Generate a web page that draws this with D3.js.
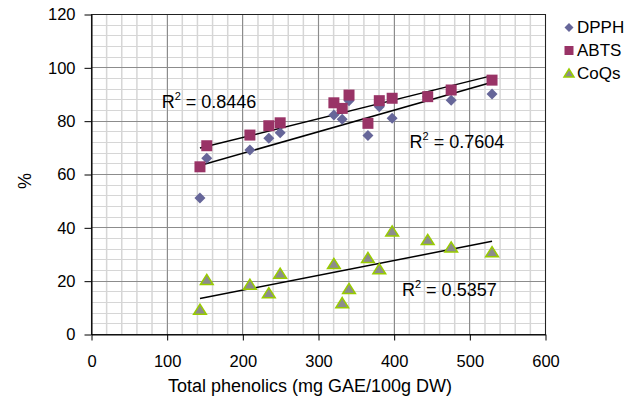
<!DOCTYPE html>
<html>
<head>
<meta charset="utf-8">
<script src="https://cdn.jsdelivr.net/npm/d3@7"></script>
<style>
  body { margin: 0; background: #fff; }
  text { font-family: "Liberation Sans", Arial, sans-serif; fill: #000; }
</style>
</head>
<body>
<svg id="chart" width="642" height="408"></svg>
<script>
// data
const phenolics = [144, 153, 210, 235, 250, 321, 332, 341, 366, 381, 398, 445, 476, 530]
const dpph = [51, 65.9, 69, 73.4, 75.5, 82.1, 80.5, 87.5, 74.4, 85.2, 80.9, 89, 87.7, 90]
const abts = [62.7, 70.6, 74.6, 78.1, 79.2, 86.7, 84.6, 89.6, 79.0, 87.5, 88.4, 89.0, 91.5, 95.2]
const coqs = [9.0, 20.2, 18.4, 15.2, 22.5, 26.2, 11.5, 16.8, 28.4, 24.2, 38.4, 35.2, 32.4, 30.6]

const seriesNames = ['DPPH', 'ABTS', 'CoQs']
const r2Labels = ['0.7604', '0.8446', '0.5357']
// where the R² labels sit, in data units [x, y]
const r2Pos = [[421, 69.6], [93.4, 84.7], [411, 14.2]]

const xTicks = [0, 100, 200, 300, 400, 500, 600]
const yTicks = [0, 20, 40, 60, 80, 100, 120]

const plot = { left: 91, top: 14, right: 545, bottom: 334 }

const svg = d3.select('#chart')

// scales
const xScale = d3.scaleLinear().domain([0, 600]).range([plot.left, plot.right])
const yScale = d3.scaleLinear().domain([0, 120]).range([plot.bottom, plot.top])

// grid - minor first, then major
const grid = svg.append('g')
grid.selectAll('.vminor')
    .data(d3.range(0, 601, 20))
    .join('line')
    .attr('x1', d => xScale(d) + 0.5).attr('x2', d => xScale(d) + 0.5)
    .attr('y1', plot.top).attr('y2', plot.bottom)
    .attr('stroke', '#d6d6d6').attr('stroke-width', 1.5)
grid.selectAll('.hminor')
    .data(d3.range(0, 121, 4))
    .join('line')
    .attr('x1', plot.left).attr('x2', plot.right)
    .attr('y1', d => Math.round(yScale(d)) + 0.5).attr('y2', d => Math.round(yScale(d)) + 0.5)
    .attr('stroke', '#d6d6d6')
grid.selectAll('.vmajor')
    .data(xTicks)
    .join('line')
    .attr('x1', d => Math.round(xScale(d)) + 0.5).attr('x2', d => Math.round(xScale(d)) + 0.5)
    .attr('y1', plot.top).attr('y2', plot.bottom)
    .attr('stroke', '#8c8c8c')
grid.selectAll('.hmajor')
    .data(yTicks)
    .join('line')
    .attr('x1', plot.left).attr('x2', plot.right)
    .attr('y1', d => Math.round(yScale(d)) + 0.5).attr('y2', d => Math.round(yScale(d)) + 0.5)
    .attr('stroke', '#8c8c8c')

// frame
svg.append('rect')
    .attr('x', plot.left + 0.5).attr('y', plot.top + 0.5)
    .attr('width', plot.right - plot.left).attr('height', plot.bottom - plot.top)
    .attr('fill', 'none').attr('stroke', '#222')

// axes
const xAxis = d3.axisBottom(xScale).tickValues(xTicks).tickSize(6).tickSizeOuter(0).tickPadding(15)
const yAxis = d3.axisLeft(yScale).tickValues(yTicks).tickSize(7).tickSizeOuter(0).tickPadding(9)

svg.append('g')
    .attr('transform', `translate(0.5,${plot.bottom + 0.5})`)
    .call(xAxis)
    .call(g => g.selectAll('text').attr('font-size', 16.5).attr('font-family', null))
svg.append('g')
    .attr('transform', `translate(${plot.left + 0.5},0.5)`)
    .call(yAxis)
    .call(g => g.selectAll('text').attr('font-size', 16.5).attr('font-family', null))
svg.selectAll('.domain, .tick line').attr('stroke', '#000')

// axis titles
svg.append('text')
    .attr('x', 310).attr('y', 392)
    .attr('text-anchor', 'middle')
    .attr('font-size', 18)
    .text('Total phenolics (mg GAE/100g DW)')
svg.append('text')
    .attr('transform', 'translate(31,181) rotate(-90)')
    .attr('text-anchor', 'middle')
    .attr('font-size', 18)
    .text('%')

// trendlines (least squares, drawn over the data's x range)
function fit(ys) {
    const mx = d3.mean(phenolics), my = d3.mean(ys)
    const sxy = d3.sum(phenolics, (x, i) => (x - mx) * (ys[i] - my))
    const sxx = d3.sum(phenolics, x => (x - mx) * (x - mx))
    const b = sxy / sxx
    const a = my - b * mx
    const ext = d3.extent(phenolics)
    return ext.map(x => [x, a + b * x])
}
const line = d3.line()
    .x(d => xScale(d[0]))
    .y(d => yScale(d[1]))

const allSeries = [dpph, abts, coqs]
svg.append('g').selectAll('path')
    .data(allSeries)
    .join('path')
    .attr('d', d => line(fit(d)))
    .attr('fill', 'none')
    .attr('stroke', '#000')
    .attr('stroke-width', 1.5)

// markers
const diamond = s => `M0,${-s} L${s},0 L0,${s} L${-s},0 Z`
const square = s => `M${-s},${-s} H${s} V${s} H${-s} Z`
const triangle = s => `M0,${-s} L${s * 1.1},${s * 0.75} L${-s * 1.1},${s * 0.75} Z`
const markerStyle = [
    { shape: diamond, size: 5.5, fill: '#666699', stroke: 'none', lsize: 4.5 },
    { shape: square, size: 5.5, fill: '#993366', stroke: 'none', lsize: 4.5 },
    { shape: triangle, size: 5.8, fill: '#8c8c8c', stroke: '#99cc00', lsize: 4.5 }
]

allSeries.forEach((ys, k) => {
    const st = markerStyle[k]
    svg.append('g').selectAll('path')
        .data(ys)
        .join('path')
        .attr('transform', (d, i) => `translate(${xScale(phenolics[i])},${yScale(d)})`)
        .attr('d', st.shape(st.size))
        .attr('fill', st.fill)
        .attr('stroke', st.stroke)
        .attr('stroke-width', 1.5)
})

// R² labels
const r2 = svg.append('g').selectAll('text')
    .data(r2Labels)
    .join('text')
    .attr('x', (d, i) => xScale(r2Pos[i][0]))
    .attr('y', (d, i) => yScale(r2Pos[i][1]))
    .attr('font-size', 18)
r2.append('tspan').text('R')
r2.append('tspan').attr('font-size', 11).attr('dy', -8).text('2')
r2.append('tspan').attr('dy', 8).text(d => ' = ' + d)

// legend
const legend = svg.append('g')
    .selectAll('g')
    .data(seriesNames)
    .join('g')
    .attr('transform', (d, i) => `translate(569,${27.5 + i * 23})`)
legend.append('path')
    .attr('d', (d, i) => markerStyle[i].shape(markerStyle[i].lsize))
    .attr('fill', (d, i) => markerStyle[i].fill)
    .attr('stroke', (d, i) => markerStyle[i].stroke)
    .attr('stroke-width', 1.5)
legend.append('text')
    .attr('x', 8).attr('dy', '0.35em')
    .attr('font-size', 17)
    .text(d => d)
</script>
</body>
</html>
